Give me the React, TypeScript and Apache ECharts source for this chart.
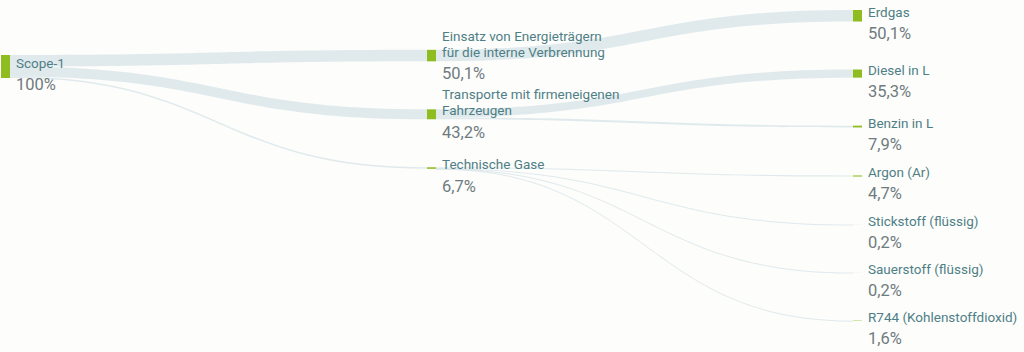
import React, { useEffect, useRef } from "react";
import * as echarts from "echarts";

const nodeIds = [
  "Scope-1",
  "Einsatz",
  "Transporte",
  "Technische Gase",
  "Erdgas",
  "Diesel in L",
  "Benzin in L",
  "Argon (Ar)",
  "Stickstoff (flüssig)",
  "Sauerstoff (flüssig)",
  "R744 (Kohlenstoffdioxid)",
];

const nodeLabels = [
  "Scope-1",
  "Einsatz von Energieträgern\nfür die interne Verbrennung",
  "Transporte mit firmeneigenen\nFahrzeugen",
  "Technische Gase",
  "Erdgas",
  "Diesel in L",
  "Benzin in L",
  "Argon (Ar)",
  "Stickstoff (flüssig)",
  "Sauerstoff (flüssig)",
  "R744 (Kohlenstoffdioxid)",
];

const linkSources = [
  "Scope-1",
  "Scope-1",
  "Scope-1",
  "Einsatz",
  "Transporte",
  "Transporte",
  "Technische Gase",
  "Technische Gase",
  "Technische Gase",
  "Technische Gase",
];
const linkTargets = [
  "Einsatz",
  "Transporte",
  "Technische Gase",
  "Erdgas",
  "Diesel in L",
  "Benzin in L",
  "Argon (Ar)",
  "Stickstoff (flüssig)",
  "Sauerstoff (flüssig)",
  "R744 (Kohlenstoffdioxid)",
];
const linkValues = [50.1, 43.2, 6.7, 50.1, 35.3, 7.9, 4.7, 0.2, 0.2, 1.6];

function fmtPct(v: number): string {
  if (Math.abs(v - Math.round(v)) < 1e-9) return Math.round(v) + "%";
  return v.toFixed(1).replace(".", ",") + "%";
}

export default function App() {
  const ref = useRef<HTMLDivElement>(null);
  useEffect(() => {
    if (!ref.current) return;
    const chart = echarts.init(ref.current, null, { renderer: "svg" });
    const labelMap: Record<string, string> = {};
    nodeIds.forEach((id, i) => (labelMap[id] = nodeLabels[i]));
    const data = nodeIds.map((id, i) => {
      const twoLine = nodeLabels[i].indexOf("\n") >= 0;
      return {
        name: id,
        label: { offset: [0, twoLine ? 2 : 10] },
      };
    });
    const links = linkSources.map((s, i) => ({
      source: s,
      target: linkTargets[i],
      value: linkValues[i],
    }));
    chart.setOption({
      animation: false,
      backgroundColor: "#fdfdfb",
      series: [
        {
          type: "sankey",
          left: 1,
          right: 162,
          top: 10,
          bottom: 31,
          nodeWidth: 9,
          nodeGap: 48,
          draggable: false,
          emphasis: { disabled: true },
          data,
          links,
          itemStyle: { color: "#8fbc1e", borderWidth: 0 },
          lineStyle: { color: "#d6e3e8", opacity: 0.75, curveness: 0.5 },
          label: {
            position: "right",
            distance: 6,
            fontFamily: "Roboto",
            formatter: (p: any) => {
              const v = nodeValue(p.name);
              return "{n|" + labelMap[p.name].split("\n").join("}\n{n|") + "}\n{v|" + fmtPct(v) + "}";
            },
            rich: {
              n: { fontSize: 13.5, lineHeight: 16, color: "#4f7f86", fontFamily: "Roboto" },
              v: { fontSize: 16.5, lineHeight: 28, color: "#6f7b7f", fontFamily: "Roboto" },
            },
          },
        },
      ],
    });
    function nodeValue(name: string): number {
      let out = 0;
      let inn = 0;
      linkSources.forEach((s, i) => {
        if (s === name) out += linkValues[i];
      });
      linkTargets.forEach((t, i) => {
        if (t === name) inn += linkValues[i];
      });
      return Math.max(out, inn);
    }
    return () => chart.dispose();
  }, []);
  return (
    <div
      ref={ref}
      style={{ position: "fixed", left: 0, top: 0, width: 1024, height: 352 }}
    />
  );
}
